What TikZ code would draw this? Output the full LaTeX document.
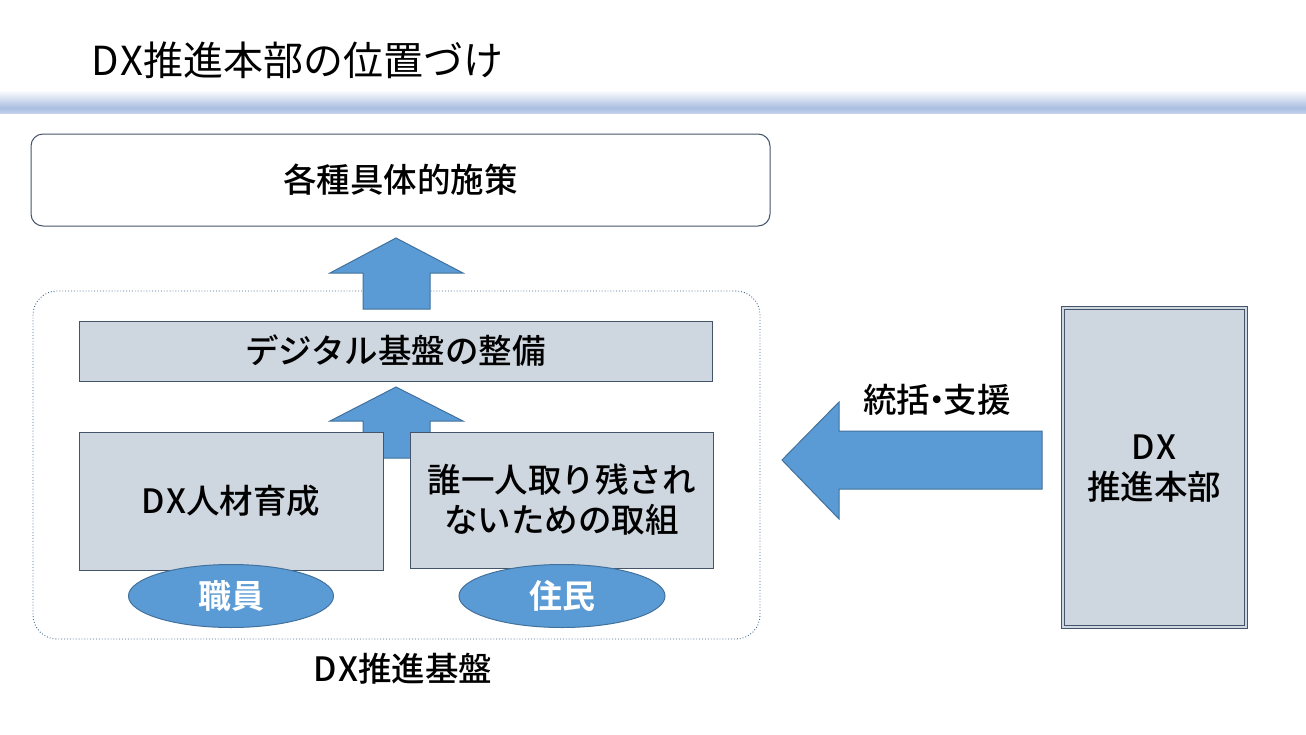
\documentclass[tikz,border=0pt]{standalone}
\usepackage{fontspec}
\setmainfont{Noto Sans CJK JP}[BoldFont={Noto Sans CJK JP Bold}]
\newfontfamily\medfont{Noto Sans CJK JP Medium}
\definecolor{boxfill}{HTML}{CED6DF}
\definecolor{boxline}{HTML}{44546A}
\definecolor{arrowfill}{HTML}{5B9BD5}
\definecolor{arrowline}{HTML}{41719C}
\definecolor{bandblue}{HTML}{A9BEE1}
\definecolor{bandlight}{HTML}{C3D2EC}
\usetikzlibrary{shapes.geometric}
\newcommand{\dxword}{D\kern1.5ptX}
\tikzset{
  graybox/.style={draw=boxline, fill=boxfill, line width=1pt, inner sep=0pt},
  blockarrow/.style={draw=arrowline, fill=arrowfill, line width=1pt, line join=miter},
  pill/.style={ellipse, draw=arrowline, fill=arrowfill, line width=1pt, inner sep=0pt},
  bodytext/.style={font=\medfont\fontsize{33.5}{40}\selectfont, text=black},
  pilltext/.style={font=\bfseries\fontsize{33}{40}\selectfont, text=white},
}
\begin{document}
\begin{tikzpicture}[x=1pt, y=-1pt]
\useasboundingbox (0,0) rectangle (1306,734);
\fill[white] (0,0) rectangle (1306,734);
% title
\node[anchor=west, font=\fontsize{40}{46}\selectfont, inner sep=0pt] (title) at (91,60) {D\kern2ptX推進本部の位置づけ};
% band
\shade[top color=white, bottom color=bandblue] (0,90) rectangle (1306,108);
\shade[top color=bandblue, bottom color=bandlight] (0,108) rectangle (1306,113);
% top box
\node[draw=boxline, line width=1pt, fill=white, rounded corners=12pt, minimum width=739pt, minimum height=92pt, inner sep=0pt, bodytext] (measures) at (400.5,180) {各種具体的施策};
% dotted container
\node[draw=arrowline!80!boxline, dotted, line width=0.9pt, rounded corners=24pt, minimum width=727pt, minimum height=348pt, inner sep=0pt] (base) at (396.5,465) {};
\node[bodytext] (baselabel) at (403,669) {\dxword 推進基盤};
% arrow 1
\draw[blockarrow] (363,309) -- (363,273) -- (330,273) -- (396,238) -- (463,273) -- (430,273) -- (430,309) -- cycle;
% digital box
\node[graybox, minimum width=633pt, minimum height=60pt, bodytext] (digital) at (395.5,351) {デジタル基盤の整備};
% arrow 2
\draw[blockarrow] (363,458) -- (363,421) -- (330,421) -- (396,387) -- (463,421) -- (430,421) -- (430,458) -- cycle;
% lower boxes
\node[graybox, minimum width=304pt, minimum height=138pt, bodytext] (hr) at (231,501) {\dxword 人材育成};
\node[graybox, minimum width=303pt, minimum height=136pt, bodytext, align=center] (inclusion) at (561.5,500) {誰一人取り残され\\ないための取組};
% ellipses
\node[pill, minimum width=205pt, minimum height=63pt, pilltext] (staff) at (231,596) {職員};
\node[pill, minimum width=206pt, minimum height=63pt, pilltext] (residents) at (562,596) {住民};
% right box
\node[draw=boxline, fill=boxfill, line width=0.9pt, double=boxfill, double distance=1.6pt, minimum width=183pt, minimum height=319pt, inner sep=0pt] (hq) at (1154.5,467.5) {};
\node[bodytext, align=center] (hqlabel) at (1154,469) {\dxword\\推進本部};
% left arrow
\draw[blockarrow] (1042,431) -- (839,431) -- (839,402) -- (782,460) -- (839,519) -- (839,489) -- (1042,489) -- cycle;
\node[bodytext] (sup) at (937,400) {統括\kern-0.3em・\kern-0.3em支援};
\end{tikzpicture}
\end{document}
